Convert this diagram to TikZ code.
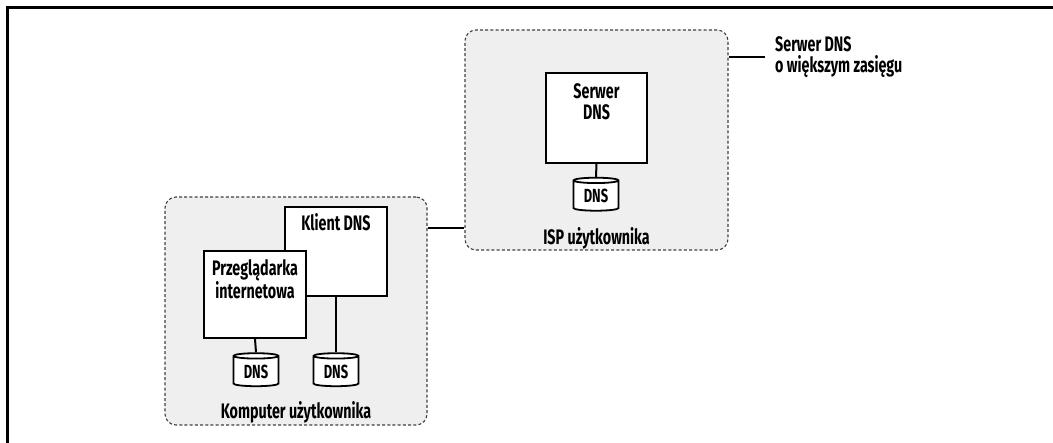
\documentclass[tikz,border=0pt]{standalone}
\usepackage{fontspec}
\setmainfont{Fira Sans}[FakeStretch=0.68]
\usetikzlibrary{shapes.geometric}
\definecolor{areagray}{HTML}{EFEFEF}
\tikzset{
  area/.style={draw=black!75, dashed, dash pattern=on 3pt off 2.2pt, line width=1.1pt, fill=areagray, rounded corners=11pt},
  box/.style={draw=black, line width=2pt, fill=white, inner sep=0pt},
  boxlabel/.style={font=\bfseries\fontsize{21}{21}\selectfont, align=center, inner sep=0pt},
  db/.style={cylinder, shape border rotate=90, draw=black, line width=1.8pt, fill=white, minimum width=45pt, minimum height=33pt, aspect=0.22, inner sep=0pt, font=\bfseries\fontsize{19}{19}\selectfont},
  link/.style={line width=2pt},
  txt/.style={font=\bfseries\fontsize{21}{21}\selectfont, inner sep=0pt}
}
\begin{document}
\begin{tikzpicture}[x=1pt,y=-1pt]
\useasboundingbox (0,0) rectangle (1053,443);
\draw[line width=2.4pt] (7.5,443) -- (7.5,7.5) -- (1053,7.5);
% areas
\node[area, minimum width=262pt, minimum height=228pt] (comp) at (296,311) {};
\node[area, minimum width=263pt, minimum height=220pt] (isp) at (596.5,140) {};
% computer
\node[box, minimum width=102pt, minimum height=89pt] (klient) at (336,251.5) {};
\node[boxlabel] (klientt) at ([yshift=-16pt]klient.north) {Klient DNS};
\node[box, minimum width=102pt, minimum height=87pt] (browser) at (255,294.5) {};
\node[boxlabel] (browsert) at ([yshift=-29pt]browser.north) {Przeglądarka\\internetowa};
\node[db] (db1) at (256,371.5) {DNS};
\node[db] (db2) at (336,371.5) {DNS};
\node[txt] (compt) at (296,412) {Komputer użytkownika};
\draw[link] (browser.south) -- (db1.top);
\draw[link] (klient.south) -- (db2.top);
% isp
\node[box, minimum width=101pt, minimum height=90pt] (serwer) at (596.5,118) {};
\node[boxlabel] (serwert) at ([yshift=-29.5pt]serwer.north) {Serwer\\DNS};
\node[db] (db3) at (596,196) {DNS};
\node[txt] (ispt) at (596.5,238) {ISP użytkownika};
\draw[link] (serwer.south) -- (db3.top);
% links
\coordinate (l1) at (0,228);
\draw[link] (comp.east |- l1) -- (isp.west |- l1);
\node[txt, align=left, anchor=west] (upper) at (775,57) {Serwer DNS\\o większym zasięgu};
\draw[link] (isp.east |- upper.west) -- ([xshift=-10pt]upper.west);
\end{tikzpicture}
\end{document}
